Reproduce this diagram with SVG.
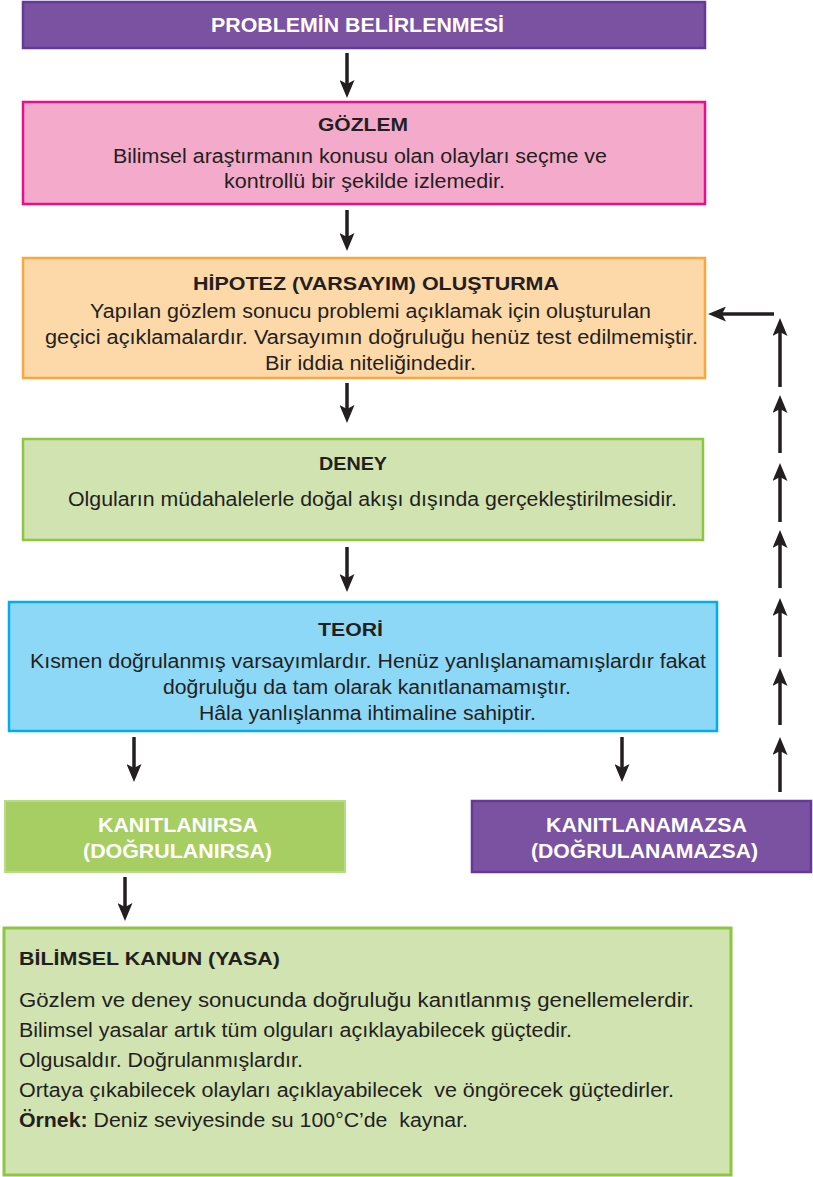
<svg xmlns="http://www.w3.org/2000/svg" width="813" height="1177" viewBox="0 0 813 1177">
<style>
text{font-family:"Liberation Sans",Arial,sans-serif;fill:#231f20;}
.t{font-size:19px;font-weight:bold;text-anchor:start;}
.b{font-size:19.5px;}
.w{fill:#ffffff;font-weight:bold;font-size:20px;}
.arr{stroke:#231f20;stroke-width:3.5;fill:none;marker-end:url(#ah);}
</style>
<defs>
<marker id="ah" viewBox="0 0 18 15" refX="10" refY="7.5" markerWidth="18" markerHeight="15" markerUnits="userSpaceOnUse" orient="auto">
<path d="M0,0 L18,7.5 L0,15 L4,7.5 Z" fill="#231f20"/>
</marker>
</defs>
<rect width="813" height="1177" fill="#ffffff"/>
<g id="connectors">
<line class="arr" x1="347" y1="53" x2="347" y2="90"/>
<line class="arr" x1="347" y1="210" x2="347" y2="243"/>
<line class="arr" x1="347" y1="383" x2="347" y2="415"/>
<line class="arr" x1="347" y1="547" x2="347" y2="584"/>
<line class="arr" x1="134" y1="737" x2="134" y2="774"/>
<line class="arr" x1="622" y1="737" x2="622" y2="774"/>
<line class="arr" x1="125" y1="877" x2="125" y2="913"/>
<line class="arr" x1="780" y1="792" x2="780" y2="745"/>
<line class="arr" x1="780" y1="725" x2="780" y2="676"/>
<line class="arr" x1="780" y1="657" x2="780" y2="606"/>
<line class="arr" x1="780" y1="588" x2="780" y2="538"/>
<line class="arr" x1="780" y1="522" x2="780" y2="471"/>
<line class="arr" x1="780" y1="453" x2="780" y2="403"/>
<line class="arr" x1="780" y1="387" x2="780" y2="326"/>
<line class="arr" x1="774" y1="314" x2="716" y2="314"/>
</g>
<g id="problem">
<rect x="23" y="2" width="682" height="46" fill="#7b52a1" stroke="#66389a" stroke-width="2.5"/>
<text class="w" x="211" y="32" textLength="293" lengthAdjust="spacingAndGlyphs">PROBLEMİN BELİRLENMESİ</text>
</g>
<g id="gozlem">
<rect x="23" y="102" width="682" height="102" fill="#f4abcb" stroke="#ec0d8c" stroke-width="2.5"/>
<text class="t" x="318" y="131" textLength="90" lengthAdjust="spacingAndGlyphs">GÖZLEM</text>
<text class="b" x="113" y="163" textLength="494" lengthAdjust="spacingAndGlyphs">Bilimsel araştırmanın konusu olan olayları seçme ve</text>
<text class="b" x="224" y="188" textLength="281" lengthAdjust="spacingAndGlyphs">kontrollü bir şekilde izlemedir.</text>
</g>
<g id="hipotez">
<rect x="23" y="258" width="682" height="120" fill="#fdd9a9" stroke="#f9a73e" stroke-width="2.5"/>
<text class="t" x="193" y="290" textLength="366" lengthAdjust="spacingAndGlyphs">HİPOTEZ (VARSAYIM) OLUŞTURMA</text>
<text class="b" x="90" y="318" textLength="561" lengthAdjust="spacingAndGlyphs">Yapılan gözlem sonucu problemi açıklamak için oluşturulan</text>
<text class="b" x="45" y="344" textLength="653" lengthAdjust="spacingAndGlyphs">geçici açıklamalardır. Varsayımın doğruluğu henüz test edilmemiştir.</text>
<text class="b" x="265" y="370" textLength="211" lengthAdjust="spacingAndGlyphs">Bir iddia niteliğindedir.</text>
</g>
<g id="deney">
<rect x="23" y="439" width="680" height="101" fill="#d1e3b1" stroke="#8dc63f" stroke-width="2.5"/>
<text class="t" x="319" y="470" textLength="68" lengthAdjust="spacingAndGlyphs">DENEY</text>
<text class="b" x="68" y="506" textLength="609" lengthAdjust="spacingAndGlyphs">Olguların müdahalelerle doğal akışı dışında gerçekleştirilmesidir.</text>
</g>
<g id="teori">
<rect x="9" y="602" width="708" height="129" fill="#8dd8f7" stroke="#00aeef" stroke-width="2.5"/>
<text class="t" x="318" y="636" textLength="65" lengthAdjust="spacingAndGlyphs">TEORİ</text>
<text class="b" x="30" y="668" textLength="676" lengthAdjust="spacingAndGlyphs">Kısmen doğrulanmış varsayımlardır. Henüz yanlışlanamamışlardır fakat</text>
<text class="b" x="163" y="694" textLength="408" lengthAdjust="spacingAndGlyphs">doğruluğu da tam olarak kanıtlanamamıştır.</text>
<text class="b" x="199" y="720" textLength="337" lengthAdjust="spacingAndGlyphs">Hâla yanlışlanma ihtimaline sahiptir.</text>
</g>
<g id="kanitlanirsa">
<rect x="5" y="801" width="340" height="71" fill="#a6ce62" stroke="#b9db85" stroke-width="2"/>
<text class="w" x="98" y="832" textLength="160" lengthAdjust="spacingAndGlyphs">KANITLANIRSA</text>
<text class="w" x="83" y="858" textLength="189" lengthAdjust="spacingAndGlyphs">(DOĞRULANIRSA)</text>
</g>
<g id="kanitlanamazsa">
<rect x="472" y="801" width="339" height="71" fill="#7b52a1" stroke="#66389a" stroke-width="2.5"/>
<text class="w" x="546" y="832" textLength="201" lengthAdjust="spacingAndGlyphs">KANITLANAMAZSA</text>
<text class="w" x="531" y="858" textLength="227" lengthAdjust="spacingAndGlyphs">(DOĞRULANAMAZSA)</text>
</g>
<g id="kanun">
<rect x="4" y="928" width="727" height="247" fill="#d1e3b1" stroke="#8dc63f" stroke-width="3"/>
<text class="t" x="19" y="965" textLength="261" lengthAdjust="spacingAndGlyphs">BİLİMSEL KANUN (YASA)</text>
<text class="b" x="19" y="1007" textLength="675" lengthAdjust="spacingAndGlyphs">Gözlem ve deney sonucunda doğruluğu kanıtlanmış genellemelerdir.</text>
<text class="b" x="19" y="1037" textLength="553" lengthAdjust="spacingAndGlyphs">Bilimsel yasalar artık tüm olguları açıklayabilecek güçtedir.</text>
<text class="b" x="19" y="1067" textLength="284" lengthAdjust="spacingAndGlyphs">Olgusaldır. Doğrulanmışlardır.</text>
<text class="b" x="19" y="1097" textLength="655" lengthAdjust="spacingAndGlyphs" xml:space="preserve">Ortaya çıkabilecek olayları açıklayabilecek  ve öngörecek güçtedirler.</text>
<text class="b" x="19" y="1127" textLength="449" lengthAdjust="spacingAndGlyphs" xml:space="preserve"><tspan font-weight="bold">Örnek:</tspan> Deniz seviyesinde su 100°C’de  kaynar.</text>
</g>
</svg>
